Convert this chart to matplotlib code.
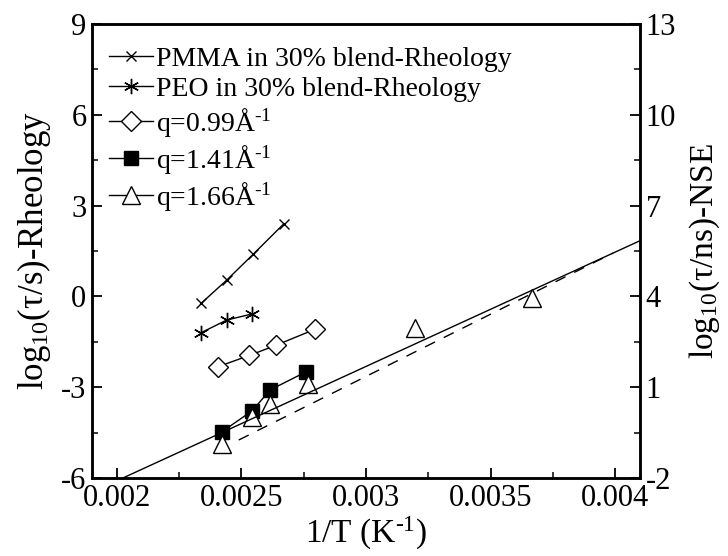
import numpy as np
import matplotlib
matplotlib.use("Agg")
import matplotlib.pyplot as plt
from matplotlib.lines import Line2D
from matplotlib.ticker import MultipleLocator

plt.rcParams['font.family'] = ['Liberation Serif', 'DejaVu Serif']
plt.rcParams['mathtext.fontset'] = 'custom'
plt.rcParams['mathtext.rm'] = 'Liberation Serif'
plt.rcParams['mathtext.it'] = 'Liberation Serif:italic'
plt.rcParams['axes.unicode_minus'] = False

# rheology (left axis, log10 tau/s)
pmma_x = [0.002338, 0.002441, 0.002548, 0.002669]
pmma_y = [-0.23, 0.54, 1.40, 2.39]
peo_x = [0.002338, 0.002441, 0.002543]
peo_y = [-1.20, -0.78, -0.58]

# NSE (right axis, log10 tau/ns)
q099_x = [0.002407, 0.002532, 0.002637, 0.002794]
q099_y = [1.68, 2.05, 2.38, 2.91]
q141_x = [0.002422, 0.002543, 0.002615, 0.002760]
q141_y = [-0.47, 0.22, 0.91, 1.51]
q166_x = [0.002422, 0.002542, 0.002616, 0.002766, 0.003196, 0.003665]
q166_y = [-0.87, 0.03, 0.44, 1.10, 2.95, 3.94]

# fit lines (right axis)
fit_x = [0.002024, 0.0041]
fit_y = [-2.0, 5.84]
fit2_x = [0.002489, 0.003992]
fit2_y = [-0.745, 5.434]

sup = '$^{\\mathregular{\u20101}}$'

fig = plt.figure(figsize=(7.28, 5.56), dpi=100)
ax = fig.add_axes([0.1264, 0.1403, 0.7527, 0.8165])
ax2 = ax.twinx()

ax.plot(pmma_x, pmma_y, '-', color='k', lw=1, marker='x', ms=7.5, mew=1)
ax.plot(peo_x, peo_y, '-', color='k', lw=1, marker=(6, 2, 0), ms=11, mew=1)

ax2.plot(q099_x, q099_y, '-', color='k', lw=1, marker='D', ms=10, mfc='white', mew=1)
ax2.plot(q141_x, q141_y, '-', color='k', lw=1, marker='s', ms=10, mfc='k', mew=1)
ax2.plot(q166_x, q166_y, ls='none', color='k', marker='^', ms=13, mfc='white', mew=1)
ax2.plot(fit_x, fit_y, '-', color='k', lw=1)
ax2.plot(fit2_x, fit2_y, '--', color='k', lw=1, dashes=(8, 7))

ax.set_xlim(0.0019, 0.0041)
ax.set_ylim(-6, 9)
ax2.set_ylim(-2, 13)

ax.xaxis.set_minor_locator(MultipleLocator(0.00025))
ax.set_xticks([0.002, 0.0025, 0.003, 0.0035, 0.004])
ax.set_xticklabels(['0.002', '0.0025', '0.003', '0.0035', '0.004'])
ax.yaxis.set_major_locator(MultipleLocator(3))
ax.yaxis.set_minor_locator(MultipleLocator(1.5))
ax2.set_yticks([-2, 1, 4, 7, 10, 13])
ax2.set_yticks(np.arange(-0.5, 13, 3), minor=True)

for a in (ax, ax2):
    for s in a.spines.values():
        s.set_linewidth(1.8)
    a.tick_params(which='major', direction='in', length=7, width=1.3, labelsize=22, pad=4)
    a.tick_params(which='minor', direction='in', length=4.5, width=1.1)
ax.tick_params(which='both', top=False, right=False)
ax2.tick_params(which='both', left=False, right=True)

ax.set_xlabel('1/T (K' + sup + ')', fontsize=24, labelpad=2)
ax.set_ylabel('log$_{\\mathregular{10}}$(\u03c4/s)-Rheology', fontsize=25, labelpad=6)
ax2.set_ylabel('log$_{\\mathregular{10}}$(\u03c4/ns)-NSE', fontsize=24, labelpad=8)

handles = [
    Line2D([], [], color='k', lw=1, marker='x', ms=7.5),
    Line2D([], [], color='k', lw=1, marker=(6, 2, 0), ms=11),
    Line2D([], [], color='k', lw=1, marker='D', ms=10, mfc='white'),
    Line2D([], [], color='k', lw=1, marker='s', ms=10, mfc='k'),
    Line2D([], [], color='k', lw=1, marker='^', ms=13, mfc='white'),
]
labels = [
    'PMMA in 30% blend-Rheology',
    'PEO in 30% blend-Rheology',
    'q=0.99\u00c5' + sup,
    'q=1.41\u00c5' + sup,
    'q=1.66\u00c5' + sup,
]
ax2.legend(handles, labels, loc='upper left', bbox_to_anchor=(0.01, 0.975),
           frameon=False, fontsize=20, handlelength=1.6, handletextpad=0.1,
           labelspacing=0.15, borderaxespad=0)

fig.savefig('out.png', dpi=100)
